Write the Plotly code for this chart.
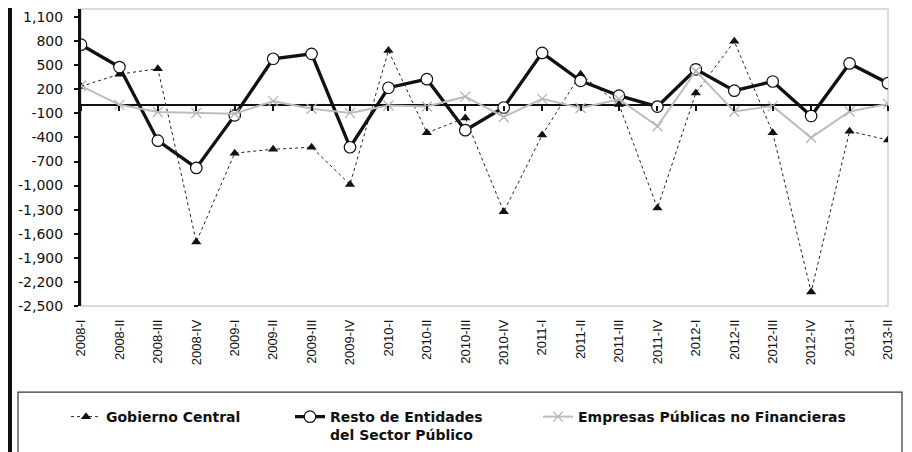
import plotly.graph_objects as go

quarters = ["2008-I", "2008-II", "2008-III", "2008-IV", "2009-I", "2009-II", "2009-III", "2009-IV",
            "2010-I", "2010-II", "2010-III", "2010-IV", "2011-I", "2011-II", "2011-III", "2011-IV",
            "2012-I", "2012-II", "2012-III", "2012-IV", "2013-I", "2013-II"]

gobierno_central = [236, 387, 457, -1702, -596, -547, -522, -985, 682, -342, -158, -1325,
                    -371, 387, 10, -1280, 154, 797, -342, -2325, -322, -432]
resto_entidades = [755, 477, -440, -780, -125, 580, 641, -522, 219, 326, -310, -27,
                   653, 305, 120, -15, 448, 182, 297, -133, 522, 276]
empresas_publicas = [243, 6, -84, -96, -105, 52, -43, -96, -2, -15, 108, -145,
                     80, -34, 75, -260, 428, -76, -10, -403, -76, 18]

y_tickvals = [1100, 800, 500, 200, -100, -400, -700, -1000, -1300, -1600, -1900, -2200, -2500]
y_ticktext = ["1,100", "800", "500", "200", "-100", "-400", "-700", "-1,000", "-1,300",
              "-1,600", "-1,900", "-2,200", "-2,500"]

name_gob = "Gobierno Central"
name_resto = "Resto de Entidades<br>del Sector Público"
name_emp = "Empresas Públicas no Financieras"

# page body has an 8px margin; target pixel coordinates are for the window
OFF = 8
W = 807.0   # plot width in px
H = 300.0   # plot height in px
L = 81.0    # plot left edge in window px
T = 9.0     # plot top edge in window px


def px_x(p):
    return (p - L) / W


def px_y(p):
    return (T + H - p) / H


fig = go.Figure()

fig.add_trace(go.Scatter(
    x=quarters, y=gobierno_central, name=name_gob, mode="lines+markers",
    line=dict(color="#222222", width=1, dash="dot"),
    marker=dict(symbol="triangle-up", size=9, color="#111111"),
    legend="legend",
))
fig.add_trace(go.Scatter(
    x=quarters, y=resto_entidades, name=name_resto, mode="lines+markers",
    line=dict(color="#111111", width=3.3),
    marker=dict(symbol="circle", size=11.5, color="white", line=dict(color="#111111", width=1.2)),
    legend="legend2",
))
fig.add_trace(go.Scatter(
    x=quarters, y=empresas_publicas, name=name_emp, mode="lines+markers",
    line=dict(color="#bdbdbd", width=2),
    marker=dict(symbol="x-thin", size=10, color="#b5b5b5", line=dict(color="#b5b5b5", width=1.3)),
    xaxis="x2", legend="legend3",
))

legend_common = dict(
    xanchor="left", yanchor="top", bgcolor="rgba(0,0,0,0)", borderwidth=0,
    valign="top", itemwidth=30,
    font=dict(family="DejaVu Sans", size=14, color="#111111", weight="bold"),
)
leg_y = px_y(405)

fig.update_layout(
    width=912 - OFF, height=452 - OFF,
    margin=dict(l=L - OFF, r=24, t=T - OFF, b=143),
    paper_bgcolor="white", plot_bgcolor="white",
    showlegend=True,
    legend=dict(x=px_x(66), y=leg_y, **legend_common),
    legend2=dict(x=px_x(290), y=leg_y, **legend_common),
    legend3=dict(x=px_x(538), y=leg_y, **legend_common),
    xaxis=dict(
        type="category", range=[0, 21], showgrid=False, zeroline=False, showline=False,
        ticks="", tickangle=-90, ticklabelstandoff=10, automargin=False,
        tickfont=dict(family="Liberation Sans, Arial", size=13, color="#111111"),
    ),
    xaxis2=dict(
        type="category", range=[0, 21], overlaying="x", anchor="free",
        position=2500 / 3700, showgrid=False, zeroline=False, showline=False,
        showticklabels=False, ticks="outside", ticklen=5, tickwidth=2, tickcolor="#111111",
        automargin=False,
    ),
    yaxis=dict(
        range=[-2500, 1200], tickmode="array", tickvals=y_tickvals, ticktext=y_ticktext,
        showgrid=False, zeroline=True, zerolinecolor="#111111", zerolinewidth=2,
        showline=True, linecolor="#111111", linewidth=3,
        ticks="outside", ticklen=4, tickwidth=2, tickcolor="#111111",
        ticklabelstandoff=8, automargin=False,
        tickfont=dict(family="DejaVu Sans", size=14, color="#111111"),
    ),
    shapes=[
        dict(type="rect", xref="paper", yref="paper", x0=0, x1=1, y0=0, y1=1,
             line=dict(color="#d0d0d0", width=1.5), layer="below"),
        dict(type="line", xref="paper", yref="paper", x0=px_x(10), x1=px_x(10),
             y0=px_y(470), y1=px_y(-10), line=dict(color="#111111", width=4)),
        dict(type="rect", xref="paper", yref="paper", x0=px_x(18), x1=px_x(902),
             y0=px_y(470), y1=px_y(396), line=dict(color="#333333", width=1.2)),
    ],
)

fig.write_html("out.html")
